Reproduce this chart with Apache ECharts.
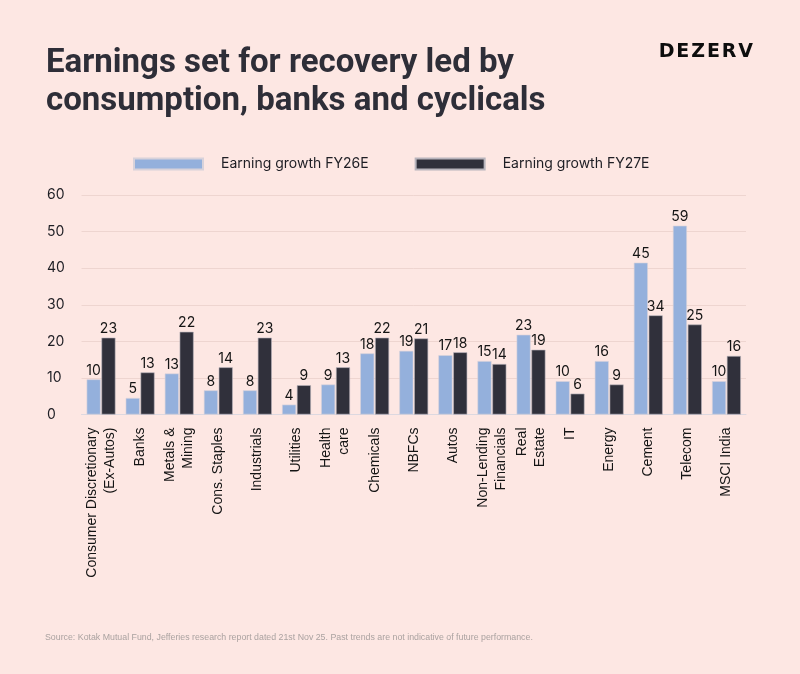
<!DOCTYPE html>
<html>
<head>
<meta charset="utf-8">
<script src="https://cdn.jsdelivr.net/npm/echarts@6/dist/echarts.min.js"></script>
<style>
  html, body { margin: 0; padding: 0; background: #fde7e3; }
  #frame { width: 800px; height: 674px; }
</style>
</head>
<body>
<div id="frame"></div>
<script>
// categories along the x axis
var sectors = [
  'Consumer Discretionary\n(Ex-Autos)', 'Banks', 'Metals &\nMining', 'Cons. Staples',
  'Industrials', 'Utilities', 'Health\ncare', 'Chemicals', 'NBFCs', 'Autos',
  'Non-Lending\nFinancials', 'Real\nEstate', 'IT', 'Energy', 'Cement', 'Telecom', 'MSCI India'
];
// bar heights as drawn in the picture
var fy26Bars = [9.6, 4.5, 11.2, 6.6, 6.6, 2.7, 8.2, 16.7, 17.4, 16.2, 14.6, 21.8, 9.1, 14.6, 41.5, 51.6, 9.1];
var fy27Bars = [21.0, 11.5, 22.6, 12.9, 21.0, 8.0, 12.9, 21.0, 20.8, 17.0, 13.8, 17.7, 5.7, 8.2, 27.1, 24.6, 16.0];
// numbers printed above the bars
var fy26Labels = [10, 5, 13, 8, 8, 4, 9, 18, 19, 17, 15, 23, 10, 16, 45, 59, 10];
var fy27Labels = [23, 13, 22, 14, 23, 9, 13, 22, 21, 18, 14, 19, 6, 9, 34, 25, 16];
var seriesNames = ['Earning growth FY26E', 'Earning growth FY27E'];

var chart = echarts.init(document.getElementById('frame'));

function barLabel(texts) {
  return {
    show: true,
    position: 'top',
    distance: 2,
    fontFamily: 'Inter',
    fontSize: 14,
    color: '#141414',
    formatter: function (p) { return String(texts[p.dataIndex]); }
  };
}

chart.setOption({
  backgroundColor: '#fde7e3',
  animation: false,
  title: {
    text: 'Earnings set for recovery led by\nconsumption, banks and cyclicals',
    left: 46,
    top: 45,
    padding: 0,
    textStyle: {
      fontFamily: 'Roboto',
      fontWeight: 700,
      fontSize: 33,
      lineHeight: 37.5,
      color: '#2e2e38'
    }
  },
  graphic: [
    {
      type: 'text',
      right: 47,
      top: 43,
      style: {
        text: 'D\u200aE\u200aZ\u200aE\u200aR\u200aV',
        fontFamily: 'DejaVu Sans',
        fontWeight: 'bold',
        fontSize: 19,
        fill: '#0d0d0d'
      }
    },
    {
      type: 'text',
      left: 45,
      top: 633,
      style: {
        text: 'Source: Kotak Mutual Fund, Jefferies research report dated 21st Nov 25. Past trends are not indicative of future performance.',
        fontFamily: 'Liberation Sans',
        fontSize: 8.8,
        fill: '#aaa2a0'
      }
    }
  ],
  legend: {
    left: 133,
    top: 157,
    padding: 0,
    itemWidth: 69,
    itemHeight: 11,
    itemGap: 46,
    icon: 'rect',
    data: seriesNames,
    textStyle: {
      fontFamily: 'Inter',
      fontSize: 14,
      color: '#1e1e24',
      padding: [0, 0, 0, 13]
    }
  },
  grid: { left: 81.5, right: 54, top: 195, bottom: 259.5 },
  xAxis: {
    type: 'category',
    data: sectors,
    axisTick: { show: false },
    axisLine: { lineStyle: { color: '#dcd8e0', width: 1 } },
    axisLabel: {
      interval: 0,
      rotate: 90,
      margin: 13,
      fontFamily: 'Liberation Sans',
      fontSize: 14,
      lineHeight: 18,
      color: '#141414'
    }
  },
  yAxis: {
    type: 'value',
    min: 0,
    max: 60,
    interval: 10,
    axisLine: { show: false },
    axisTick: { show: false },
    splitLine: { lineStyle: { color: '#eed5d0', width: 1 } },
    axisLabel: {
      align: 'left',
      margin: 34.5,
      fontFamily: 'Inter',
      fontSize: 14,
      color: '#1e1e24'
    }
  },
  series: [
    {
      name: seriesNames[0],
      type: 'bar',
      data: fy26Bars,
      barWidth: 14,
      barGap: '6%',
      itemStyle: { color: '#94b0dc', borderColor: '#d8d2da', borderWidth: 0.6 },
      label: barLabel(fy26Labels)
    },
    {
      name: seriesNames[1],
      type: 'bar',
      data: fy27Bars,
      barWidth: 14,
      itemStyle: { color: '#30303b', borderColor: '#b8b4bc', borderWidth: 0.6 },
      label: barLabel(fy27Labels)
    }
  ]
});
</script>
</body>
</html>
